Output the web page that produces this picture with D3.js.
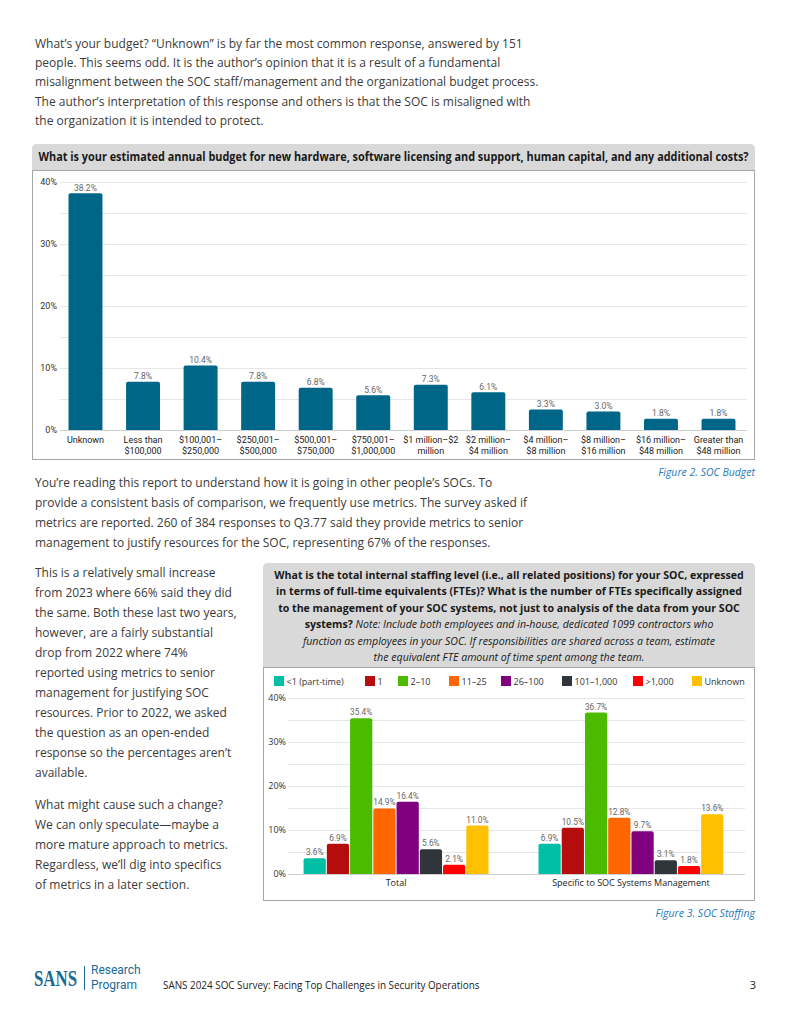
<!DOCTYPE html>
<html>
<head>
<meta charset="utf-8">
<script src="https://cdn.jsdelivr.net/npm/d3@7/dist/d3.min.js"></script>
<style>
  html, body { margin: 0; padding: 0; background: #fff; }
  svg { display: block; }
  .body-text { font-family: "Open Sans", "Noto Sans", sans-serif; font-size: 12px; fill: #3b3b3b; }
  .cond { font-family: Roboto, "Noto Sans", sans-serif; }
  .caption { font-family: "Open Sans", sans-serif; font-style: italic; font-size: 10.5px; fill: #1f7ab8; }
</style>
</head>
<body>
<div id="page"></div>
<script>
  "use strict";

  // ---- data ----
  var budgetCats = ["Unknown", "Less than\n$100,000", "$100,001–\n$250,000", "$250,001–\n$500,000",
    "$500,001–\n$750,000", "$750,001–\n$1,000,000", "$1 million–$2\nmillion", "$2 million–\n$4 million",
    "$4 million–\n$8 million", "$8 million–\n$16 million", "$16 million–\n$48 million", "Greater than\n$48 million"];
  var budgetVals = [38.2, 7.8, 10.4, 7.8, 6.8, 5.6, 7.3, 6.1, 3.3, 3.0, 1.8, 1.8];
  var budgetTicks = [0, 10, 20, 30, 40];

  var staffLevels = ["<1 (part-time)", "1", "2–10", "11–25", "26–100", "101–1,000", ">1,000", "Unknown"];
  var staffColors = ["#00bfa5", "#b50d0d", "#4cbb00", "#ff6600", "#800080", "#2f353b", "#ff0000", "#ffc000"];
  var staffGroups = ["Total", "Specific to SOC Systems Management"];
  var staffTotal = [3.6, 6.9, 35.4, 14.9, 16.4, 5.6, 2.1, 11.0];
  var staffSpecific = [6.9, 10.5, 36.7, 12.8, 9.7, 3.1, 1.8, 13.6];
  var staffTicks = [0, 10, 20, 30, 40];

  var introLines = [
    "What’s your budget? “Unknown” is by far the most common response, answered by 151",
    "people. This seems odd. It is the author’s opinion that it is a result of a fundamental",
    "misalignment between the SOC staff/management and the organizational budget process.",
    "The author’s interpretation of this response and others is that the SOC is misaligned with",
    "the organization it is intended to protect."
  ];
  var midLines = [
    "You’re reading this report to understand how it is going in other people’s SOCs. To",
    "provide a consistent basis of comparison, we frequently use metrics. The survey asked if",
    "metrics are reported. 260 of 384 responses to Q3.77 said they provide metrics to senior",
    "management to justify resources for the SOC, representing 67% of the responses."
  ];
  var sideLines = [
    "This is a relatively small increase",
    "from 2023 where 66% said they did",
    "the same. Both these last two years,",
    "however, are a fairly substantial",
    "drop from 2022 where 74%",
    "reported using metrics to senior",
    "management for justifying SOC",
    "resources. Prior to 2022, we asked",
    "the question as an open-ended",
    "response so the percentages aren’t",
    "available."
  ];
  var sideLines2 = [
    "What might cause such a change?",
    "We can only speculate—maybe a",
    "more mature approach to metrics.",
    "Regardless, we’ll dig into specifics",
    "of metrics in a later section."
  ];
  var staffTitle = [
    [{ t: "What is the total internal staffing level (i.e., all related positions) for your SOC, expressed" }],
    [{ t: "in terms of full-time equivalents (FTEs)? What is the number of FTEs specifically assigned" }],
    [{ t: "to the management of your SOC systems, not just to analysis of the data from your SOC" }],
    [{ t: "systems? " }, { t: "Note: Include both employees and in-house, dedicated 1099 contractors who", i: true }],
    [{ t: "function as employees in your SOC. If responsibilities are shared across a team, estimate", i: true }],
    [{ t: "the equivalent FTE amount of time spent among the team.", i: true }]
  ];

  var W = 791, H = 1024;
  var svg = d3.select("#page").append("svg").attr("width", W).attr("height", H);

  function para(lines, x, y0, lh) {
    var t = svg.append("g");
    lines.forEach(function (s, i) {
      t.append("text").attr("class", "body-text")
        .attr("x", x).attr("y", y0 + i * lh).text(s);
    });
  }

  para(introLines, 35, 48, 19.2);
  para(midLines, 35, 487, 20);
  para(sideLines, 35, 577, 20);
  para(sideLines2, 35, 809, 20);

  function topRoundRect(x, y, w, h, r) {
    return "M" + x + "," + (y + h) + "V" + (y + r) + "Q" + x + "," + y + " " + (x + r) + "," + y +
      "H" + (x + w - r) + "Q" + (x + w) + "," + y + " " + (x + w) + "," + (y + r) + "V" + (y + h) + "Z";
  }

  // ---- Figure 2: budget ----
  svg.append("path").attr("d", topRoundRect(32, 144, 723, 26, 5)).attr("fill", "#d9d9d9");
  svg.append("rect").attr("x", 32.5).attr("y", 170.5).attr("width", 722).attr("height", 289)
    .attr("fill", "#fff").attr("stroke", "#a6a6a6");
  svg.append("text").attr("x", 393.5).attr("y", 161)
    .attr("text-anchor", "middle").attr("font-family", "'Open Sans', sans-serif")
    .attr("font-size", 11.5).attr("font-weight", "bold").attr("fill", "#1a1a1a")
    .attr("textLength", 710).attr("lengthAdjust", "spacingAndGlyphs")
    .text("What is your estimated annual budget for new hardware, software licensing and support, human capital, and any additional costs?");

  var y1 = d3.scaleLinear().domain([0, 40]).range([430, 182]);
  var x1 = d3.scaleBand().domain(budgetCats).range([57, 747]).paddingInner(0.41).paddingOuter(0.2);

  var g1 = svg.append("g");
  g1.selectAll(".grid").data(d3.range(5, 41, 5)).enter().append("line")
    .attr("x1", 60).attr("x2", 747)
    .attr("y1", function (d) { return y1(d) + 0.5; }).attr("y2", function (d) { return y1(d) + 0.5; })
    .attr("stroke", "#e6e6e6").attr("stroke-width", 1);
  g1.append("line").attr("x1", 60).attr("x2", 747).attr("y1", y1(0) + 0.5).attr("y2", y1(0) + 0.5)
    .attr("stroke", "#d0d0d0");

  var yAxis1 = d3.axisLeft(y1).tickValues(budgetTicks).tickSize(0).tickPadding(0)
    .tickFormat(function (d) { return d + "%"; });
  var ax1 = g1.append("g").attr("transform", "translate(57,0)").call(yAxis1);
  ax1.select(".domain").remove();
  ax1.selectAll("text").attr("class", "cond").attr("font-size", 9).attr("fill", "#333");

  g1.selectAll(".bar").data(budgetVals).enter().append("path")
    .attr("d", function (d, i) {
      var x = x1(budgetCats[i]), w = x1.bandwidth(), yt = y1(d), yb = y1(0);
      return topRoundRect(x, yt, w, yb - yt, 2);
    })
    .attr("fill", "#006688");

  g1.selectAll(".val").data(budgetVals).enter().append("text")
    .attr("class", "cond").attr("font-size", 8.5).attr("fill", "#666").attr("text-anchor", "middle")
    .attr("x", function (d, i) { return x1(budgetCats[i]) + x1.bandwidth() / 2; })
    .attr("y", function (d) { return y1(d) - 2.5; })
    .text(function (d) { return d.toFixed(1) + "%"; });

  var xAxis1 = d3.axisBottom(x1).tickSize(0).tickPadding(0).tickFormat("");
  var xa1 = g1.append("g").attr("transform", "translate(0,430)").call(xAxis1);
  xa1.select(".domain").remove();
  xa1.selectAll(".tick").each(function (d) {
    var t = d3.select(this).append("text").attr("class", "cond").attr("font-size", 9)
      .attr("fill", "#1a1a1a").attr("text-anchor", "middle");
    d.split("\n").forEach(function (s, k) {
      t.append("tspan").attr("x", 0).attr("y", 13 + k * 11).text(s);
    });
  });

  svg.append("text").attr("class", "caption").attr("x", 755).attr("y", 476)
    .attr("text-anchor", "end").text("Figure 2. SOC Budget");

  // ---- Figure 3: staffing ----
  svg.append("path").attr("d", topRoundRect(263, 563, 492, 104, 5)).attr("fill", "#d9d9d9");
  svg.append("rect").attr("x", 263.5).attr("y", 667.5).attr("width", 491).attr("height", 233)
    .attr("fill", "#fff").attr("stroke", "#a6a6a6");
  var tt = svg.append("g");
  staffTitle.forEach(function (parts, i) {
    var t = tt.append("text").attr("x", 509).attr("y", 579 + i * 16.4).attr("text-anchor", "middle")
      .attr("font-family", "'Open Sans', sans-serif").attr("font-size", 10.6).attr("fill", "#1a1a1a");
    parts.forEach(function (p) {
      t.append("tspan").attr("font-weight", p.i ? "normal" : "bold")
        .attr("font-style", p.i ? "italic" : "normal").text(p.t);
    });
  });

  // legend
  var legendX = [274, 365, 398, 449, 501, 562, 633, 692];
  var lg = svg.append("g").attr("transform", "translate(0,676)");
  staffLevels.forEach(function (s, i) {
    lg.append("rect").attr("x", legendX[i]).attr("y", 0).attr("width", 10).attr("height", 10)
      .attr("fill", staffColors[i]);
    lg.append("text").attr("x", legendX[i] + 12.5).attr("y", 9).attr("font-family", "'Open Sans', sans-serif")
      .attr("font-size", 9).attr("fill", "#333").text(s);
  });

  var y2 = d3.scaleLinear().domain([0, 40]).range([874, 698]);
  var x2 = d3.scaleBand().domain(staffGroups).range([285, 742]).paddingInner(0.2085).paddingOuter(0.077);
  var xs = d3.scaleBand().domain(staffLevels).range([0, x2.bandwidth()]).padding(0);

  var g2 = svg.append("g");
  g2.selectAll(".grid").data(d3.range(5, 41, 5)).enter().append("line")
    .attr("x1", 288).attr("x2", 745)
    .attr("y1", function (d) { return y2(d) + 0.5; }).attr("y2", function (d) { return y2(d) + 0.5; })
    .attr("stroke", "#e6e6e6");
  g2.append("line").attr("x1", 288).attr("x2", 745).attr("y1", y2(0) + 0.5).attr("y2", y2(0) + 0.5)
    .attr("stroke", "#d0d0d0");

  var yAxis2 = d3.axisLeft(y2).tickValues(staffTicks).tickSize(0).tickPadding(0)
    .tickFormat(function (d) { return d + "%"; });
  var ax2 = g2.append("g").attr("transform", "translate(286,0)").call(yAxis2);
  ax2.select(".domain").remove();
  ax2.selectAll("text").attr("font-family", "'Open Sans', sans-serif").attr("font-size", 9).attr("fill", "#333");

  var staffRows = [staffTotal, staffSpecific];
  staffRows.forEach(function (vals, gi) {
    var gg = g2.append("g").attr("transform", "translate(" + x2(staffGroups[gi]) + ",0)");
    gg.selectAll("path").data(vals).enter().append("path")
      .attr("d", function (d, i) {
        var x = xs(staffLevels[i]) + 0.5, w = xs.bandwidth() - 1, yt = y2(d), yb = y2(0);
        return topRoundRect(x, yt, w, yb - yt, 2);
      })
      .attr("fill", function (d, i) { return staffColors[i]; });
    gg.selectAll("text").data(vals).enter().append("text")
      .attr("class", "cond").attr("font-size", 8.3).attr("fill", "#666").attr("text-anchor", "middle")
      .attr("x", function (d, i) { return xs(staffLevels[i]) + xs.bandwidth() / 2; })
      .attr("y", function (d) { return y2(d) - 3; })
      .text(function (d) { return d.toFixed(1) + "%"; });
  });

  var xAxis2 = d3.axisBottom(x2).tickSize(0).tickPadding(6);
  var xa2 = g2.append("g").attr("transform", "translate(0,874)").call(xAxis2);
  xa2.select(".domain").remove();
  xa2.selectAll("text").attr("font-family", "'Open Sans', sans-serif").attr("font-size", 9).attr("fill", "#222");

  svg.append("text").attr("class", "caption").attr("x", 755).attr("y", 917)
    .attr("text-anchor", "end").text("Figure 3. SOC Staffing");

  // ---- footer ----
  var ft = svg.append("g");
  ft.append("text").attr("x", 34).attr("y", 986).attr("font-family", "'Liberation Serif', serif")
    .attr("font-weight", "bold").attr("font-size", 24).attr("fill", "#1a6a96")
    .attr("textLength", 43).attr("lengthAdjust", "spacingAndGlyphs").text("SANS");
  ft.append("line").attr("x1", 84.5).attr("x2", 84.5).attr("y1", 966).attr("y2", 990)
    .attr("stroke", "#1a6a96").attr("stroke-width", 1);
  ft.append("text").attr("x", 91).attr("y", 974).attr("font-family", "Roboto, sans-serif")
    .attr("font-size", 12).attr("fill", "#1a6a96").text("Research");
  ft.append("text").attr("x", 91).attr("y", 989).attr("font-family", "Roboto, sans-serif")
    .attr("font-size", 12).attr("fill", "#1a6a96").text("Program");
  ft.append("text").attr("x", 163).attr("y", 989).attr("font-family", "'Open Sans', sans-serif")
    .attr("font-size", 9.9).attr("fill", "#222")
    .text("SANS 2024 SOC Survey: Facing Top Challenges in Security Operations");
  ft.append("text").attr("x", 756).attr("y", 989).attr("text-anchor", "end")
    .attr("font-family", "'Open Sans', sans-serif").attr("font-size", 11).attr("fill", "#222").text("3");
</script>
</body>
</html>
